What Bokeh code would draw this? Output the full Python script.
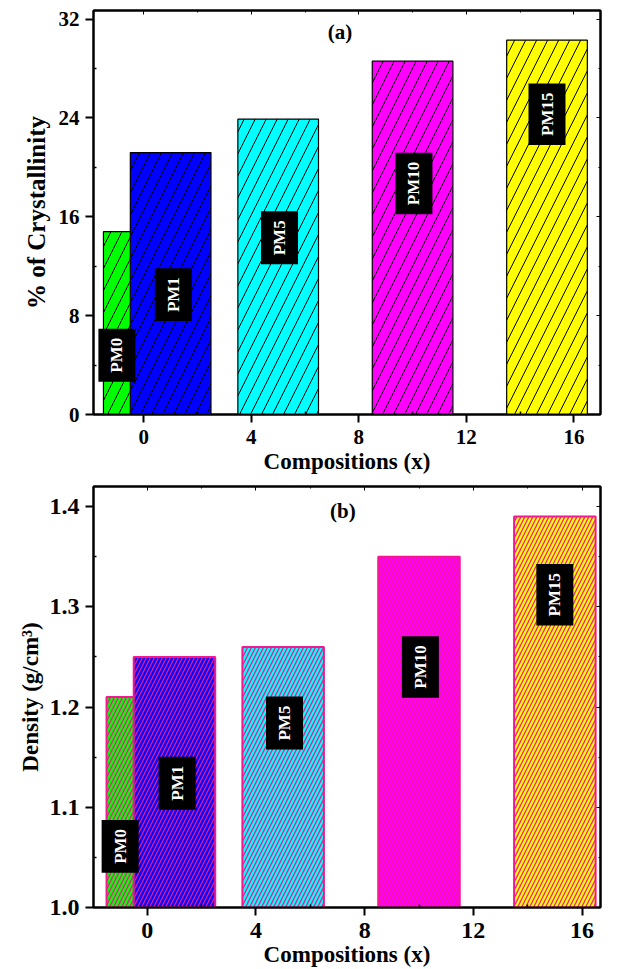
import math
from bokeh.plotting import figure
from bokeh.models import (Range1d, LinearAxis, FixedTicker, ColumnDataSource, Label,
                          PrintfTickFormatter)
from bokeh.layouts import column
from bokeh.core.properties import value
from bokeh.embed import file_html
from bokeh.resources import INLINE

# ---------------- data ----------------
sample_names = ["PM0", "PM1", "PM5", "PM10", "PM15"]
compositions = [0, 1, 5, 10, 15]
crystallinity = [14.8, 21.2, 23.9, 28.6, 30.3]
density = [1.21, 1.25, 1.26, 1.35, 1.39]
label_x = [-1.0, 1.1, 5.05, 10.05, 15.0]
cryst_label_y = [4.8, 9.7, 14.3, 18.7, 24.3]
dens_label_y = [1.061, 1.124, 1.184, 1.240, 1.312]
bar_colors = ["#00ff00", "#0000ff", "#00ffff", "#ff00ff", "#ffff00"]
x_ticks = [0, 4, 8, 12, 16]
x_minor = [-2, 2, 6, 10, 14]
cryst_ticks = [0, 8, 16, 24, 32]
cryst_minor = [4, 12, 20, 28]
dens_ticks = [1.0, 1.1, 1.2, 1.3, 1.4]
dens_minor = [1.05, 1.15, 1.25, 1.35]

FONT = "Liberation Serif"
PINK = "#f2188f"


def style_main_axes(p, xt, xm, yt, ym, tick_fs, xlab_fs, ylab_fs, xstand, ystand, xlab_stand, ylab_stand):
    for ax in p.xaxis + p.yaxis:
        ax.axis_line_width = 2
        ax.axis_line_color = "black"
        ax.major_tick_line_width = 2
        ax.minor_tick_line_width = 1.5
        ax.major_tick_out = 8
        ax.major_tick_in = 0
        ax.minor_tick_out = 0
        ax.minor_tick_in = 3
        ax.major_label_text_font = FONT
        ax.major_label_text_font_style = "bold"
        ax.major_label_text_font_size = tick_fs
        ax.major_label_text_color = "black"
        ax.axis_label_text_font = FONT
        ax.axis_label_text_font_style = "bold"
        ax.axis_label_text_color = "black"
    p.xaxis.axis_label_text_font_size = xlab_fs
    p.yaxis.axis_label_text_font_size = ylab_fs
    p.xaxis.ticker = FixedTicker(ticks=xt, minor_ticks=xm)
    p.yaxis.ticker = FixedTicker(ticks=yt, minor_ticks=ym)
    p.xaxis.major_label_standoff = xstand
    p.yaxis.major_label_standoff = ystand
    p.xaxis.axis_label_standoff = xlab_stand
    p.yaxis.axis_label_standoff = ylab_stand
    p.xgrid.visible = False
    p.ygrid.visible = False
    # mirror axes (ticks only, inside, no labels)
    top = LinearAxis(ticker=FixedTicker(ticks=xt, minor_ticks=xm))
    right = LinearAxis(ticker=FixedTicker(ticks=yt, minor_ticks=ym))
    for ax in (top, right):
        ax.axis_line_width = 2
        ax.major_tick_in = 4
        ax.major_tick_out = 0
        ax.minor_tick_in = 2
        ax.minor_tick_out = 0
        ax.major_label_text_color = None
        ax.major_label_text_font_size = "1px"
        ax.major_label_standoff = 0
    p.add_layout(top, "above")
    p.add_layout(right, "right")


def add_labels(p, ys):
    src = ColumnDataSource(dict(x=label_x, y=ys, t=sample_names))
    p.text(x="x", y="y", text="t", source=src, angle=math.pi / 2,
           text_align="center", text_baseline="middle",
           text_font=value(FONT), text_font_style="bold",
           text_font_size="17px", text_color="white",
           background_fill_color="black", padding=9)


# ---------------- panel (a) ----------------
p1 = figure(width=619, height=480, output_backend="svg", toolbar_location=None,
            x_range=Range1d(-1.87, 16.99), y_range=Range1d(0, 32.7),
            min_border_left=85, min_border_right=19, min_border_top=10,
            min_border_bottom=66)
p1.outline_line_color = "black"
p1.outline_line_width = 2
src1 = ColumnDataSource(dict(x=compositions, top=crystallinity, color=bar_colors))
p1.vbar(x="x", top="top", bottom=0, width=3, source=src1,
        fill_color="color", line_color="black", line_width=1.2,
        hatch_pattern="/", hatch_color="black", hatch_weight=1, hatch_scale=22)
add_labels(p1, cryst_label_y)
p1.xaxis.axis_label = "Compositions (x)"
p1.yaxis.axis_label = "% of Crystallinity"
style_main_axes(p1, x_ticks, x_minor, cryst_ticks, cryst_minor, "21px", "23px", "25px", 7, 6, 2, 6)
p1.add_layout(Label(x=7.3, y=30.95, text="(a)", text_font=FONT, text_font_style="bold",
                    text_font_size="21px", text_color="black",
                    text_align="center", text_baseline="middle"))

# ---------------- panel (b) ----------------
p2 = figure(width=619, height=489, output_backend="svg", toolbar_location=None,
            x_range=Range1d(-1.98, 16.68), y_range=Range1d(1.0, 1.42),
            min_border_left=93, min_border_right=1, min_border_top=6,
            min_border_bottom=61)
p2.outline_line_color = "black"
p2.outline_line_width = 2
src2 = ColumnDataSource(dict(x=compositions, top=density, color=bar_colors))
p2.vbar(x="x", top="top", bottom=0, width=3, source=src2,
        fill_color="color", line_color=PINK, line_width=2,
        hatch_pattern="/", hatch_color=PINK, hatch_weight=1.3, hatch_scale=8)
add_labels(p2, dens_label_y)
p2.xaxis.axis_label = "Compositions (x)"
p2.yaxis.axis_label = "Density (g/cm³)"
style_main_axes(p2, x_ticks, x_minor, dens_ticks, dens_minor, "24px", "23px", "23px", 7, 6, 1, 4)
p2.yaxis.formatter = PrintfTickFormatter(format="%.1f")
p2.add_layout(Label(x=7.2, y=1.396, text="(b)", text_font=FONT, text_font_style="bold",
                    text_font_size="21px", text_color="black",
                    text_align="center", text_baseline="middle"))

layout = column(p1, p2, spacing=0)
open("out.html", "w").write(file_html(layout, INLINE))
